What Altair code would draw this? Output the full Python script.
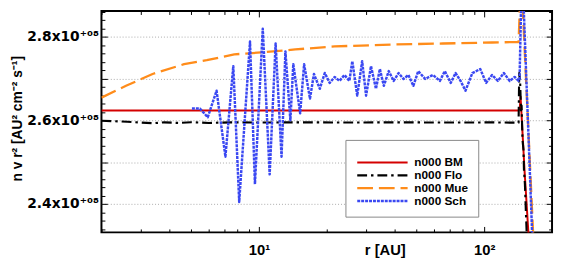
import altair as alt
import pandas as pd

FONT = "Liberation Sans"
SUPFONT = "DejaVu Sans"

series_names = ["n000 BM", "n000 Flo", "n000 Mue", "n000 Sch"]
series_colors = ["#d40000", "#000000", "#ff8c1a", "#3a48f2"]
series_dashes = [[1, 0], [10, 4, 2.5, 4], [16, 6], [3, 1]]
series_widths = [2, 2.5, 2.5, 3.5]

# r in AU, values in units of 1e8 AU^2 cm^-2 s^-1
bm_r = [2.0, 142.1, 144.0, 145.0, 151.0, 157.1, 160.0]
bm_v = [2.6235, 2.6235, 2.63, 2.6565, 2.48, 2.33, 2.27]

flo_r = [2.0, 2.3, 2.6, 3.0, 3.4, 3.8, 4.4, 5.0, 6.0, 7.5, 10.0, 15.0, 25.0, 40.0, 70.0, 110.0, 142.1,
         143.0, 144.3, 145.7, 146.5, 147.9, 149.4, 150.1, 151.6, 152.4, 153.2, 154.7]
flo_v = [2.5988, 2.5975, 2.5965, 2.5945, 2.5929, 2.5950, 2.5935, 2.5953, 2.5935, 2.5950, 2.5945, 2.5950,
         2.5945, 2.5950, 2.5945, 2.5948, 2.5941,
         2.713, 2.694, 2.6235, 2.635, 2.553, 2.529, 2.482, 2.447, 2.412, 2.376, 2.318]

mue_r = [2.0, 2.571, 3.373, 4.654, 5.867, 7.772, 10.40, 14.50, 21.67, 39.63, 65.50, 108.3, 142.1,
         143.5, 145.0, 147.9, 165.2, 170.0]
mue_v = [2.6541, 2.6824, 2.7106, 2.7341, 2.7435, 2.7576, 2.7624, 2.7694, 2.7765, 2.7812, 2.7835, 2.7859, 2.7871,
         2.85, 2.92, 2.8824, 2.3176, 2.20]

sch_r = [5.042, 5.467, 5.925, 6.486, 7.100, 7.694, 8.174, 9.129, 9.601, 10.40, 11.16, 11.86, 12.60, 13.11,
         13.79, 14.21, 15.24, 15.87, 16.85, 17.55, 18.63, 19.60, 20.61, 21.67, 22.79, 23.97, 25.20, 25.97,
         27.31, 28.72, 29.90, 31.44, 33.07, 34.42, 35.84, 37.69, 39.63, 41.67, 43.82, 46.08, 48.46, 50.95,
         54.67, 59.25, 63.56, 66.84, 71.00, 74.66, 78.51, 82.55, 88.58, 96.01, 102.0, 108.3, 115.0, 122.2,
         129.8, 136.5, 142.1, 143.5, 146.4, 149.4, 163.5, 168.0]
sch_v = [2.6282, 2.6282, 2.6071, 2.6706, 2.5129, 2.7294, 2.4047, 2.7882, 2.4471, 2.8188, 2.4706, 2.7835,
         2.5129, 2.7647, 2.6000, 2.7341, 2.6165, 2.7341, 2.6518, 2.7106, 2.6753, 2.7129, 2.6894, 2.7035,
         2.6941, 2.7082, 2.6941, 2.7412, 2.6588, 2.7412, 2.6588, 2.7294, 2.6753, 2.7224, 2.6824, 2.7176,
         2.6941, 2.7129, 2.6988, 2.7082, 2.6824, 2.7176, 2.6988, 2.7082, 2.6941, 2.7176, 2.6894, 2.7129,
         2.6941, 2.6706, 2.7129, 2.7224, 2.6894, 2.7082, 2.6941, 2.7129, 2.6941, 2.7035, 2.6941,
         2.6988, 2.92, 2.8824, 2.3176, 2.20]

x_label_values = [10, 100]
x_tick_values = [2, 3, 4, 5, 6, 7, 8, 9, 10, 20, 30, 40, 50, 60, 70, 80, 90, 100, 200]
y_grid_values = [2.4e8, 2.5e8, 2.6e8, 2.7e8, 2.8e8]
y_tick_values = [2.34e8, 2.36e8, 2.38e8, 2.40e8, 2.42e8, 2.44e8, 2.46e8, 2.48e8, 2.50e8, 2.52e8, 2.54e8,
                 2.56e8, 2.58e8, 2.60e8, 2.62e8, 2.64e8, 2.66e8, 2.68e8, 2.70e8, 2.72e8, 2.74e8, 2.76e8,
                 2.78e8, 2.80e8, 2.82e8, 2.84e8, 2.86e8]

rows = []
for name, rs, vs in zip(series_names, [bm_r, flo_r, mue_r, sch_r], [bm_v, flo_v, mue_v, sch_v]):
    for i, (r, v) in enumerate(zip(rs, vs)):
        rows.append({"series": name, "r": r, "v": v * 1e8, "i": i})
df = pd.DataFrame(rows)

W, H = 458, 225
xscale = alt.Scale(type="log", domain=[2, 200], nice=False)
yscale = alt.Scale(domain=[2.3318e8, 2.8612e8], nice=False, zero=False)

legend = alt.Legend(
    title="\u00a0", titleFontSize=7, titlePadding=0, titleFont=FONT,
    orient="none", legendX=248, legendY=131,
    symbolType="M-1,0H11.8", symbolSize=64, symbolStrokeWidth=2.5,
    labelFont=FONT, labelFontSize=12, labelFontWeight="bold", labelColor="black",
    labelOffset=48, rowPadding=1, padding=10,
    fillColor="white", strokeColor="#888888",
)

lines = alt.Chart(df).mark_line(clip=True, strokeCap="butt", strokeJoin="round").encode(
    x=alt.X("r:Q", scale=xscale, axis=alt.Axis(
        orient="bottom", values=x_label_values,
        labelExpr="'10' + (datum.value == 10 ? '¹' : '²')",
        ticks=False, tickSize=0, domain=False, grid=False,
        labelFont=FONT, labelFontSize=15, labelFontWeight="bold", labelColor="black",
        labelBaseline="alphabetic", labelPadding=23,
        title="r [AU]", titleFont=FONT, titleFontSize=15, titleFontWeight="bold", titleColor="black",
        titleX=288, titleY=23, titleBaseline="alphabetic", titleAlign="center")),
    y=alt.Y("v:Q", scale=yscale, axis=alt.Axis(
        orient="left", values=y_grid_values,
        labelExpr="round(datum.value / 1e7) % 2 == 0 ? format(datum.value / 1e8, '.1f') + 'x10⁺⁰⁸' : ''",
        ticks=False, tickSize=0, domain=False,
        grid=True, gridColor="#aaaaaa", gridDash=[1, 2], gridWidth=1,
        labelFont=SUPFONT, labelFontSize=14, labelFontWeight="bold", labelColor="black", labelPadding=3,
        title="n v r² [AU² cm⁻² s⁻¹]", titleFont=FONT, titleFontSize=14, titleFontWeight="bold",
        titleColor="black", titleX=-78, titleY=109)),
    color=alt.Color("series:N", scale=alt.Scale(domain=series_names, range=series_colors), legend=legend),
    strokeDash=alt.StrokeDash("series:N", scale=alt.Scale(domain=series_names, range=series_dashes), legend=legend),
    strokeWidth=alt.StrokeWidth("series:N", scale=alt.Scale(domain=series_names, range=series_widths), legend=None),
    order="i:Q",
)

x_major = "abs(log(datum.value) / LN10 - round(log(datum.value) / LN10)) < 0.001"
y_major = "abs(datum.value / 1e7 - round(datum.value / 1e7)) < 0.01"


def tick_axis_x(orient):
    return alt.Axis(orient=orient, offset=-H, values=x_tick_values, labels=False, domain=False, grid=False,
                    title=None, tickColor="black", tickWidth=1,
                    tickSize=alt.condition(x_major, alt.value(6), alt.value(3.5)))


def tick_axis_y(orient):
    return alt.Axis(orient=orient, offset=-W, values=y_tick_values, labels=False, domain=False, grid=False,
                    title=None, tickColor="black", tickWidth=1,
                    tickSize=alt.condition(y_major, alt.value(6), alt.value(3.5)))


ticks_a = alt.Chart(df).mark_line(opacity=0, clip=True).encode(
    x=alt.X("r:Q", scale=xscale, axis=tick_axis_x("top")),
    y=alt.Y("v:Q", scale=yscale, axis=tick_axis_y("right")),
    detail="series:N", order="i:Q",
)
ticks_b = alt.Chart(df).mark_line(opacity=0, clip=True).encode(
    x=alt.X("r:Q", scale=xscale, axis=tick_axis_x("bottom")),
    y=alt.Y("v:Q", scale=yscale, axis=tick_axis_y("left")),
    detail="series:N", order="i:Q",
)

chart = alt.layer(lines, ticks_a, ticks_b).resolve_axis(x="independent", y="independent").properties(
    width=W, height=H,
    padding={"left": 95, "top": 1, "right": 2, "bottom": 26},
    autosize=alt.AutoSizeParams(type="none"),
    background="white",
).configure_view(stroke="black", strokeWidth=2)

chart.save("out.html", embed_options={"renderer": "svg", "actions": False})
